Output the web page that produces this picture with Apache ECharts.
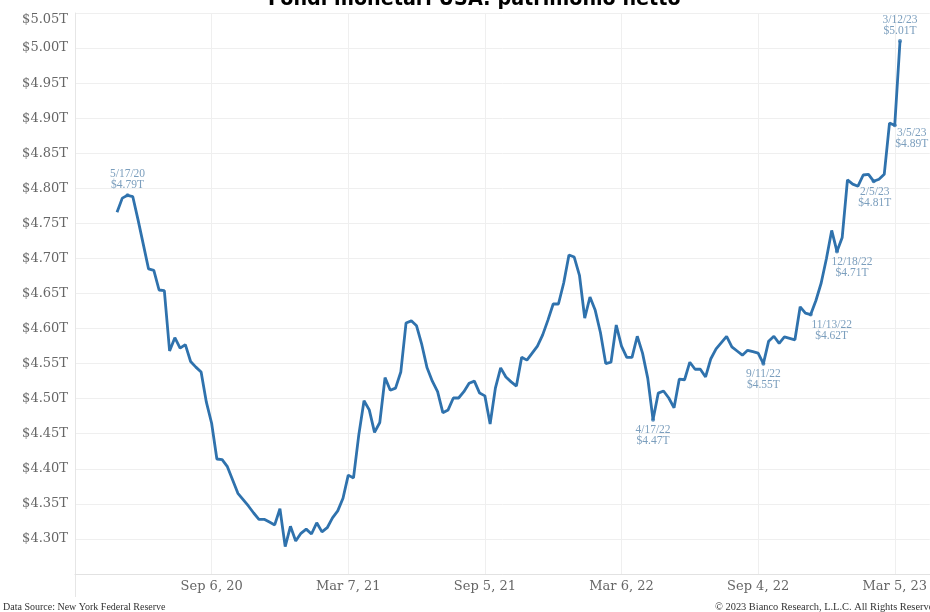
<!DOCTYPE html>
<html>
<head>
<meta charset="utf-8">
<script src="https://cdn.jsdelivr.net/npm/echarts@6/dist/echarts.min.js"></script>
<style>html,body{margin:0;padding:0;background:#fff;}#c{width:930px;height:612px;}</style>
</head>
<body>
<div id="c"></div>
<script>
// ---- data (weekly, starting Sunday 2020-05-03) ----
const startDate = '2020-05-03';
const values = [
  4.766, 4.786, 4.790, 4.788, 4.755, 4.720, 4.685, 4.683, 4.655, 4.654,
  4.568, 4.587, 4.572, 4.577, 4.553, 4.545, 4.538, 4.495, 4.465, 4.414,
  4.413, 4.403, 4.384, 4.365, 4.356, 4.347, 4.337, 4.328, 4.328, 4.324,
  4.320, 4.343, 4.289, 4.318, 4.297, 4.308, 4.314, 4.307, 4.323, 4.310,
  4.316, 4.330, 4.340, 4.358, 4.391, 4.387, 4.448, 4.497, 4.484, 4.452,
  4.466, 4.530, 4.512, 4.515, 4.538, 4.608, 4.611, 4.604, 4.577, 4.544,
  4.525, 4.510, 4.480, 4.484, 4.501, 4.501, 4.510, 4.522, 4.525, 4.508,
  4.504, 4.464, 4.515, 4.544, 4.531, 4.524, 4.518, 4.559, 4.555, 4.565,
  4.575, 4.591, 4.612, 4.635, 4.635, 4.665, 4.705, 4.702, 4.676, 4.615,
  4.645, 4.626, 4.594, 4.550, 4.552, 4.605, 4.575, 4.559, 4.559, 4.589,
  4.565, 4.529, 4.470, 4.508, 4.511, 4.501, 4.487, 4.528, 4.527, 4.552,
  4.542, 4.542, 4.531, 4.557, 4.571, 4.580, 4.589, 4.574, 4.568, 4.562,
  4.569, 4.567, 4.565, 4.550, 4.582, 4.589, 4.579, 4.588, 4.586, 4.584,
  4.631, 4.622, 4.620, 4.640, 4.665, 4.700, 4.740, 4.710, 4.730, 4.812,
  4.806, 4.803, 4.819, 4.820, 4.810, 4.813, 4.820, 4.893, 4.890, 5.010
];
const noteDates = ['2020-05-17', '2022-04-17', '2022-09-11', '2022-11-13', '2022-12-18', '2023-02-05', '2023-03-05', '2023-03-12'];
const xTickLabels = ['Sep 6, 20', 'Mar 7, 21', 'Sep 5, 21', 'Mar 6, 22', 'Sep 4, 22', 'Mar 5, 23'];
const yTicks = { min: 4.25, max: 5.05, step: 0.05 };
const titleText = 'Fondi monetari USA: patrimonio netto';
const sourceText = 'Data Source: New York Federal Reserve';
const copyText = '\u00A9 2023 Bianco Research, L.L.C. All Rights Reserved';

// ---- build ----
const DAY = 86400000;
const t0 = Date.parse(startDate + 'T00:00:00Z');
const points = values.map((v, i) => [t0 + i * 7 * DAY, v]);
const MON = ['Jan','Feb','Mar','Apr','May','Jun','Jul','Aug','Sep','Oct','Nov','Dec'];
function fmtTick(ts) {
  const d = new Date(ts);
  return MON[d.getUTCMonth()] + ' ' + d.getUTCDate() + ', ' + String(d.getUTCFullYear()).slice(2);
}
function fmtShort(ts) {
  const d = new Date(ts);
  return (d.getUTCMonth() + 1) + '/' + d.getUTCDate() + '/' + String(d.getUTCFullYear()).slice(2);
}
// label placement styles per annotation
const notePlace = {
  '2020-05-17': { position: 'top', offset: [0, 0] },
  '2022-04-17': { position: 'bottom', offset: [0, 0] },
  '2022-09-11': { position: 'bottom', offset: [0, 0] },
  '2022-11-13': { position: 'bottom', offset: [21, 0] },
  '2022-12-18': { position: 'bottom', offset: [15, 0] },
  '2023-02-05': { position: 'bottom', offset: [1, 0] },
  '2023-03-05': { position: 'bottom', offset: [17, -3] },
  '2023-03-12': { position: 'top', offset: [0, 0] }
};
const notes = noteDates.map(ds => {
  const ts = Date.parse(ds + 'T00:00:00Z');
  const idx = Math.round((ts - t0) / (7 * DAY));
  const v = values[idx];
  const p = notePlace[ds];
  return {
    value: [ts, v],
    label: {
      show: true, position: p.position, offset: p.offset, distance: 3,
      formatter: fmtShort(ts) + '\n$' + v.toFixed(2) + 'T'
    }
  };
});

const xMin = Date.UTC(2020, 2, 8);
const xMax = Date.UTC(2023, 3, 20, 14);
const serif = 'DejaVu Serif';

const chart = echarts.init(document.getElementById('c'), null, { renderer: 'canvas' });
chart.setOption({
  backgroundColor: '#ffffff',
  animation: false,
  title: {
    text: titleText, left: 268, top: -11, padding: 0,
    textStyle: { fontFamily: "'Liberation Sans Narrow','DejaVu Sans Condensed',sans-serif", fontWeight: 'bold', fontSize: 21.3, color: '#000' }
  },
  grid: { left: 75, right: 0, top: 13, bottom: 38, containLabel: false },
  xAxis: {
    type: 'value', min: xMin, max: xMax, interval: 182 * DAY,
    axisLine: { show: true, lineStyle: { color: '#e2e2e2', width: 1 } },
    axisTick: { show: false },
    splitLine: { show: true, showMaxLine: false, lineStyle: { color: '#efefef', width: 1 } },
    axisLabel: {
      showMinLabel: false, showMaxLabel: false, margin: 6,
      fontFamily: serif, fontSize: 13, color: '#666',
      formatter: v => {
        const s = fmtTick(v);
        return xTickLabels.indexOf(s) >= 0 ? s : '';
      }
    }
  },
  yAxis: {
    type: 'value', min: yTicks.min, max: yTicks.max, interval: yTicks.step,
    axisLine: { show: true, lineStyle: { color: '#e6e6e6', width: 1 } },
    axisTick: { show: false },
    splitLine: { show: true, lineStyle: { color: '#efefef', width: 1 } },
    axisLabel: {
      showMinLabel: false, margin: 7,
      fontFamily: serif, fontSize: 13, color: '#666',
      formatter: v => {
        const s = '$' + v.toFixed(2) + 'T';
        return Math.abs(v - yTicks.max) < 1e-6 ? '{top|' + s + '}' : s;
      },
      rich: { top: { fontFamily: serif, fontSize: 13, color: '#666', padding: [13, 0, 0, 0] } }
    }
  },
  series: [
    {
      type: 'line', data: points, showSymbol: false, smooth: false,
      lineStyle: { color: '#2f72ad', width: 2.8 }, z: 2
    },
    {
      type: 'scatter', data: notes, symbol: 'circle', symbolSize: 4,
      itemStyle: { color: '#2f72ad' }, z: 3,
      label: { fontFamily: 'Liberation Serif', fontSize: 11.5, lineHeight: 11, color: '#5a86ad' }
    }
  ],
  graphic: [
    { type: 'line', shape: { x1: 75.5, y1: 574, x2: 75.5, y2: 597 }, style: { stroke: '#e6e6e6', lineWidth: 1 } },
    { type: 'text', left: 3, top: 602, style: { text: sourceText, font: '10px "Liberation Serif"', fill: '#333' } },
    { type: 'text', left: 715, top: 602, style: { text: copyText, font: '10.4px "Liberation Serif"', fill: '#333' } }
  ]
});
</script>
</body>
</html>
